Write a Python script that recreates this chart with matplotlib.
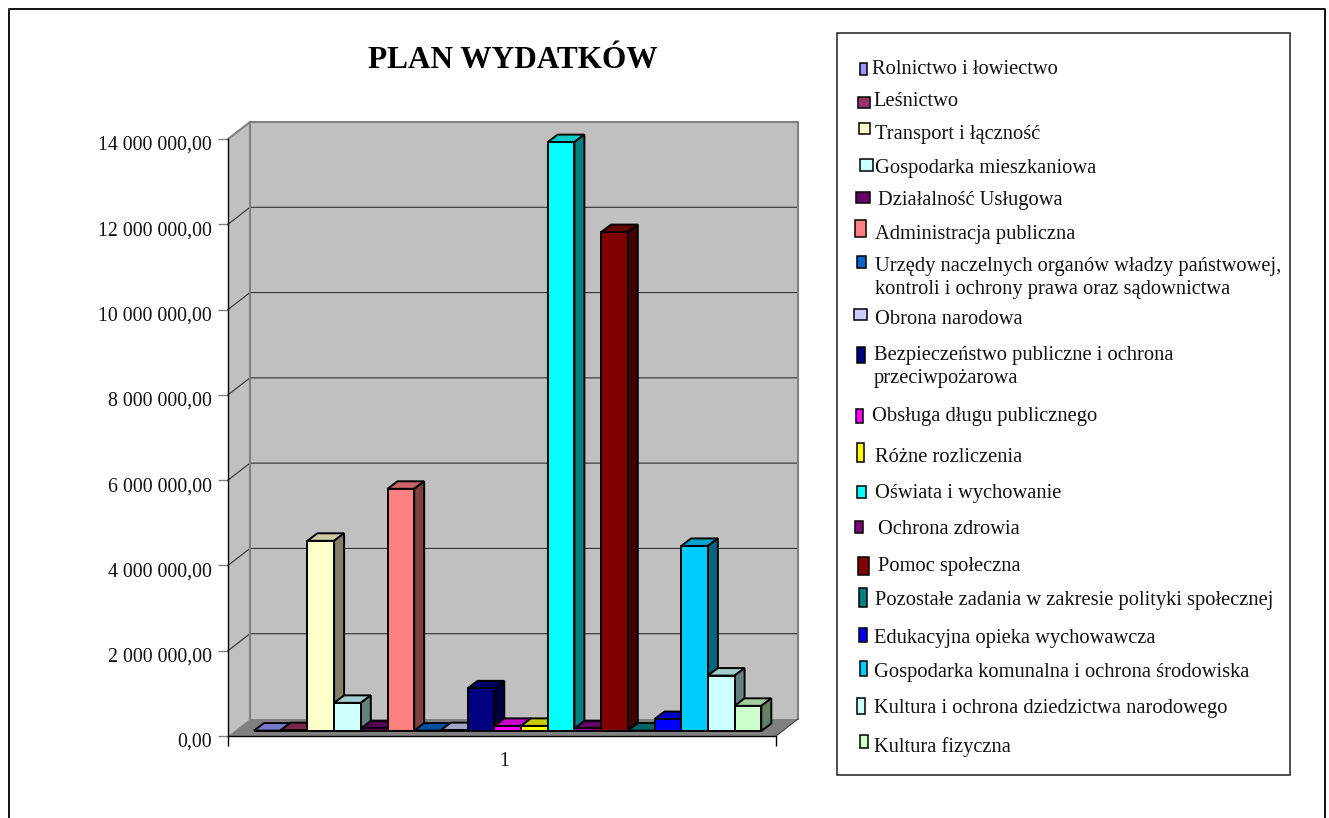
import matplotlib
matplotlib.use("Agg")
import matplotlib.pyplot as plt
from matplotlib.lines import Line2D
from matplotlib.patches import Polygon, Rectangle
from matplotlib.transforms import ScaledTranslation

W, H = 1329, 818

# chart data
labels = [
    "Rolnictwo i łowiectwo",
    "Leśnictwo",
    "Transport i łączność",
    "Gospodarka mieszkaniowa",
    "Działalność Usługowa",
    "Administracja publiczna",
    "Urzędy naczelnych organów władzy państwowej,\nkontroli i ochrony prawa oraz sądownictwa",
    "Obrona narodowa",
    "Bezpieczeństwo publiczne i ochrona\nprzeciwpożarowa",
    "Obsługa długu publicznego",
    "Różne rozliczenia",
    "Oświata i wychowanie",
    "Ochrona zdrowia",
    "Pomoc społeczna",
    "Pozostałe zadania w zakresie polityki społecznej",
    "Edukacyjna opieka wychowawcza",
    "Gospodarka komunalna i ochrona środowiska",
    "Kultura i ochrona dziedzictwa narodowego",
    "Kultura fizyczna",
]
values = [
    10000, 20000, 4460000, 660000, 60000, 5680000, 10000, 20000, 1000000, 120000,
    120000, 13810000, 60000, 11700000, 10000, 280000, 4340000, 1300000, 590000,
]
colors = [
    "#9999FF", "#993366", "#FFFFCC", "#CCFFFF", "#660066", "#FF8080", "#0066CC",
    "#CCCCFF", "#000080", "#FF00FF", "#FFFF00", "#00FFFF", "#800080", "#800000",
    "#008080", "#0000FF", "#00CCFF", "#CCFFFF", "#CCFFCC",
]
y_ticks = [0, 2000000, 4000000, 6000000, 8000000, 10000000, 12000000, 14000000]
y_tick_labels = [
    "0,00", "2 000 000,00", "4 000 000,00", "6 000 000,00", "8 000 000,00",
    "10 000 000,00", "12 000 000,00", "14 000 000,00",
]

# legend layout in pixels, the swatches are not aligned in the original
text_x = [872, 873, 875, 875, 878, 875, 875, 875, 874, 872, 875, 875, 878, 878, 875, 874, 874, 874, 874]
text_y = [68, 100, 133, 166, 198, 232, 276, 318, 365, 414, 455, 492, 528, 565, 599, 636, 671, 707, 745]
swatches = [
    (860, 63, 7, 12), (858, 97, 12, 11), (859, 123, 11, 11), (860, 159, 13, 12),
    (856, 192, 14, 11), (855, 220, 11, 17), (857, 256, 9, 12), (854, 309, 13, 11),
    (857, 347, 8, 16), (856, 409, 7, 14), (857, 443, 7, 19), (857, 486, 9, 12),
    (855, 521, 8, 12), (858, 557, 11, 18), (859, 588, 8, 19), (859, 628, 8, 14),
    (860, 661, 7, 15), (857, 698, 8, 16), (860, 735, 8, 13),
]

plt.rcParams["font.family"] = ["Liberation Serif", "DejaVu Serif"]

fig = plt.figure(figsize=(W / 100, H / 100), dpi=100)
ax = fig.add_axes([228 / W, 1 - 736 / H, 548 / W, 597 / H])

PX_X = 26.7  # one bar wide
PX_Y = 42.64 / 1e6
x0 = -0.5 - 26 / PX_X
ax.set_xlim(x0, x0 + 548 / PX_X)
ax.set_ylim(0, 14000000)
ax.patch.set_visible(False)
for s in ax.spines.values():
    s.set_visible(False)


def off(px, py):
    return px / PX_X, py / PX_Y


def shade(c, f):
    r, g, b = matplotlib.colors.to_rgb(c)
    return (r * f, g * f, b * f)


xa, xb = ax.get_xlim()
ytop = 14000000
dx, dy = off(22, 17)

# walls and floor
ax.add_patch(Polygon([(xa + dx, dy), (xb + dx, dy), (xb + dx, ytop + dy), (xa + dx, ytop + dy)],
                     fc="#C0C0C0", ec="none", clip_on=False, zorder=1))
ax.add_patch(Polygon([(xa, 0), (xa + dx, dy), (xa + dx, ytop + dy), (xa, ytop)],
                     fc="#C0C0C0", ec="none", clip_on=False, zorder=1))
ax.add_patch(Polygon([(xa, 0), (xb, 0), (xb + dx, dy), (xa + dx, dy)],
                     fc="#808080", ec="none", clip_on=False, zorder=1))

for t in y_ticks[1:-1]:
    ax.plot([xa, xa + dx, xb + dx], [t, t + dy, t + dy], color="#303030", lw=0.8, clip_on=False, zorder=2)
ax.plot([xa, xa + dx, xb + dx, xb + dx], [ytop, ytop + dy, ytop + dy, dy], color="#808080", lw=1.5,
        clip_on=False, zorder=2)
ax.plot([xa + dx, xa + dx], [dy, ytop + dy], color="#808080", lw=1.5, clip_on=False, zorder=2)
ax.plot([xa, xa], [0, ytop], color="black", lw=1.0, clip_on=False, zorder=2)
ax.plot([xa, xb], [0, 0], color="black", lw=1.0, clip_on=False, zorder=2)
ax.plot([xb, xb + dx], [0, dy], color="#404040", lw=0.8, clip_on=False, zorder=2)

# bars, left to right so each one covers the side of the previous
base = 5 / PX_Y
bx, by = off(10, 7.5)
for i, (v, c) in enumerate(zip(values, colors)):
    z = 3 + i
    l, r, top = i - 0.5, i + 0.5, base + v
    ax.add_patch(Polygon([(l, top), (r, top), (r + bx, top + by), (l + bx, top + by)],
                         fc=shade(c, 0.8), ec="black", lw=1.4, clip_on=False, zorder=z))
    ax.add_patch(Polygon([(r, base), (r + bx, base + by), (r + bx, top + by), (r, top)],
                         fc=shade(c, 0.5), ec="black", lw=1.4, clip_on=False, zorder=z))
    ax.bar(i, v, width=1, bottom=base, color=c, edgecolor="black", linewidth=1.4, clip_on=False, zorder=z + 0.5)

ax.set_yticks(y_ticks)
ax.set_yticklabels(y_tick_labels, fontsize=14.3, color="#111111")
ax.set_xticks([xa, xb])
ax.set_xticklabels(["", ""])
ax.tick_params(axis="y", length=7, width=1, color="#808080", pad=4.5)
ax.tick_params(axis="x", length=7, width=1, color="black")
shift = ScaledTranslation(0, -4 / 100, fig.dpi_scale_trans)
for lab in ax.get_yticklabels():
    lab.set_transform(lab.get_transform() + shift)


def fx(x):
    return x / W


def fy(y):
    return 1 - y / H


fig.text(fx(504), fy(761), "1", fontsize=14.3, ha="center", va="center", color="#111111")
fig.text(fx(513), fy(60), "PLAN WYDATKÓW", fontsize=22.5, fontweight="bold", ha="center", va="center", color="black")

# outer frame, runs off the bottom of the picture
fig.add_artist(Line2D([fx(9), fx(9), fx(1325), fx(1325)], [0, fy(9), fy(9), 0], color="black", lw=1.3))

# legend
fig.add_artist(Rectangle((fx(837), fy(775)), (1290 - 837) / W, (775 - 33) / H, transform=fig.transFigure,
                         fc="white", ec="#202020", lw=1.1))
for lab, c, tx, ty, (sx, sy, sw, sh) in zip(labels, colors, text_x, text_y, swatches):
    fig.add_artist(Rectangle((fx(sx), fy(sy + sh)), sw / W, sh / H, transform=fig.transFigure,
                             fc=c, ec="black", lw=1.1))
    fig.text(fx(tx), fy(ty + 2), lab, fontsize=14.8, ha="left", va="center", linespacing=1.32, color="#111111")

fig.savefig("out.png", dpi=100)
